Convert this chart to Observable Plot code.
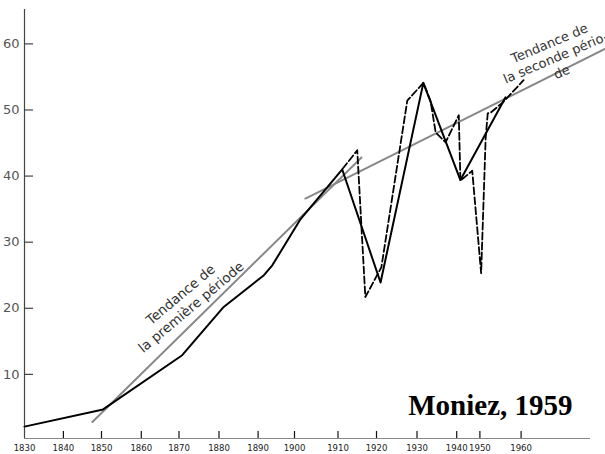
<!DOCTYPE html>
<html>
<head>
<meta charset="utf-8">
<script src="https://cdn.jsdelivr.net/npm/d3@7"></script>
<script src="https://cdn.jsdelivr.net/npm/@observablehq/plot@0.6"></script>
<style>
  body { margin: 0; background: #fff; }
  #chart svg { display: block; }
</style>
</head>
<body>
<div id="chart"></div>
<script>
// ---- Data ----
const xTickYears = [1830, 1840, 1850, 1860, 1870, 1880, 1890, 1900, 1910, 1920, 1930, 1940, 1950, 1960];
const yTickValues = [10, 20, 30, 40, 50, 60];

// Solid series (period averages)
const solidYears  = [1830, 1850.4, 1870.8, 1881.2, 1891.6, 1893.9, 1901.4, 1911.1, 1921.0, 1931.6, 1941.6, 1956.2];
const solidValues = [2.1,  4.7,    12.9,   20.2,   25.0,   26.5,   33.5,   41.0,   23.9,   54.1,   39.4,   51.9];

// Dashed series (annual values)
const dashedYears  = [1911.2, 1915.0, 1917.1, 1921.2, 1927.6, 1931.6, 1933.4, 1934.7, 1937.2, 1940.9, 1941.6, 1946.7, 1950.3, 1951.4, 1951.9, 1952.6, 1955.5, 1960.6];
const dashedValues = [41.1,   43.9,   21.7,   26.2,   51.4,   54.1,   51.4,   46.6,   45.1,   49.2,   39.3,   40.8,   25.3,   45.8,   49.5,   49.6,   51.1,   54.5];

// Trend lines
const trend1Years  = [1847.6, 1916.1];
const trend1Values = [2.8, 42.8];
const trend2Years  = [1902.5, 1980.7];
const trend2Values = [36.6, 59.3];

// Annotations
const label1 = {text: "Tendance de\nla première période", year: 1871.6, value: 21.2};
const label2 = {text: "Tendance de\nla seconde pério-\nde", year: 1968.4, value: 58.0};
const credit = {text: "Moniez, 1959", year: 1972.6, value: 5.3};

// ---- Build tables ----
const solid = solidYears.map((x, i) => ({x, y: solidValues[i]}));
const dashed = dashedYears.map((x, i) => ({x, y: dashedValues[i]}));
const trend1 = trend1Years.map((x, i) => ({x, y: trend1Values[i]}));
const trend2 = trend2Years.map((x, i) => ({x, y: trend2Values[i]}));

const yMin = 0.3, yMax = 65.2;
const W = 605, H = 454, mL = 24, mR = 15, mT = 9, mB = 16;
const frameH = H - mT - mB;

// hand-drawn axis: tick spacing is irregular in the original, so use a piecewise x scale
const xDomain = [1830, 1840, 1850, 1860, 1870, 1880, 1890, 1900, 1910, 1920, 1930, 1940, 1950, 1960, 1977];
const xRange  = [24, 62.9, 101, 140.8, 178.5, 218.5, 257.6, 294, 337.5, 376, 416.5, 456.2, 479.4, 520.6, 590];

// tick lengths (px) expressed in data units through the scales
const yUnitPx = frameH / (yMax - yMin);
const xTickTop = yMin + 7 / yUnitPx;
const xUnitPx = (xRange[1] - xRange[0]) / (xDomain[1] - xDomain[0]);
const yTickEnd = xDomain[0] + 9 / xUnitPx;

const chart = Plot.plot({
  width: W,
  height: H,
  marginLeft: mL,
  marginRight: mR,
  marginTop: mT,
  marginBottom: mB,
  style: {fontFamily: "DejaVu Sans, sans-serif", background: "#fff", overflow: "visible"},
  x: {type: "linear", domain: xDomain, range: xRange},
  y: {domain: [yMin, yMax]},
  marks: [
    // axis lines
    Plot.ruleX([xDomain[0]], {stroke: "#444", strokeWidth: 1.2}),
    Plot.ruleY([yMin], {stroke: "#888", strokeWidth: 1.2}),
    // inward tick marks
    Plot.ruleY(yTickValues, {y: d => d, x1: xDomain[0], x2: yTickEnd, stroke: "#444", strokeWidth: 1.2}),
    Plot.ruleX(xTickYears.slice(1), {x: d => d, y1: yMin, y2: xTickTop, stroke: "#111", strokeWidth: 1.2}),
    // tick labels
    Plot.axisY({ticks: yTickValues, tickSize: 0, tickPadding: 5, fontSize: 13, color: "#555", tickFormat: "d"}),
    Plot.axisX({ticks: xTickYears, tickSize: 0, tickPadding: 6, fontSize: 9.5, color: "#222", tickFormat: "d",
                fontFamily: "DejaVu Sans Condensed, Liberation Sans, sans-serif"}),
    // trend lines
    Plot.line(trend1, {x: "x", y: "y", stroke: "#888", strokeWidth: 2}),
    Plot.line(trend2, {x: "x", y: "y", stroke: "#888", strokeWidth: 2}),
    // series
    Plot.line(dashed, {x: "x", y: "y", stroke: "#000", strokeWidth: 1.8, strokeDasharray: "7,3"}),
    Plot.line(solid, {x: "x", y: "y", stroke: "#000", strokeWidth: 2}),
    // annotations
    Plot.text([label1], {x: "year", y: "value", text: "text", rotate: -40, fontSize: 13.5, lineHeight: 1.22, fill: "#333", textAnchor: "middle"}),
    Plot.text([label2], {x: "year", y: "value", text: "text", rotate: -23, fontSize: 13, lineHeight: 1.2, fill: "#333", textAnchor: "middle"}),
    Plot.text([credit], {x: "year", y: "value", text: "text", textAnchor: "end", fontSize: 29, fontWeight: "bold", fontFamily: "Liberation Serif, serif", fill: "#000"})
  ]
});

document.getElementById("chart").appendChild(chart);
</script>
</body>
</html>
